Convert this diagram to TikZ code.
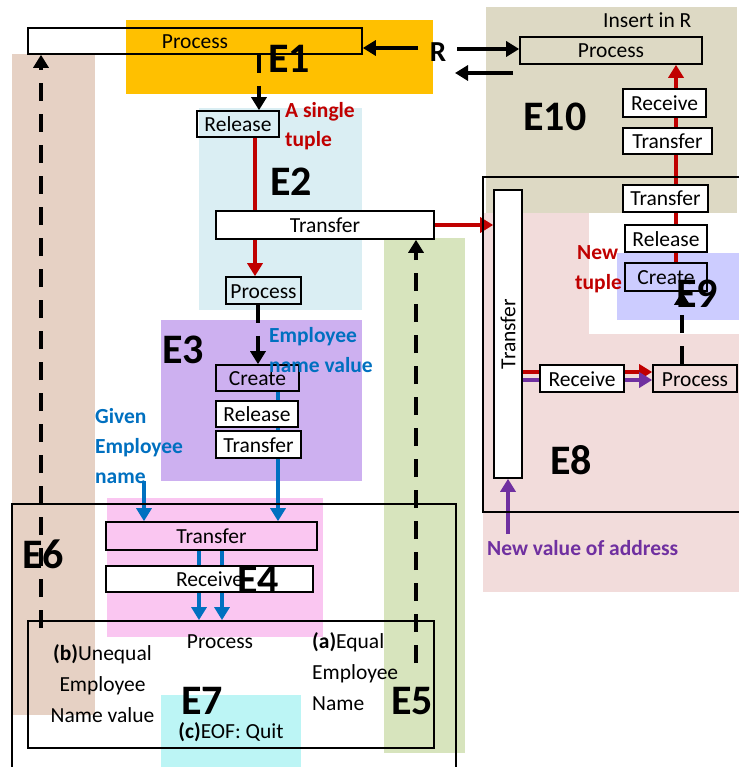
\documentclass[tikz,border=0pt]{standalone}
\usepackage{fontspec}
\usepackage{graphicx}
\setmainfont{Carlito}
\usetikzlibrary{arrows.meta}

\definecolor{eorange}{HTML}{FFC000}
\definecolor{eblue}{HTML}{DAEEF3}
\definecolor{epurple}{HTML}{CDB0F0}
\definecolor{epink}{HTML}{FAC6F1}
\definecolor{ecyan}{HTML}{BCF5F5}
\definecolor{egreen}{HTML}{D7E4BD}
\definecolor{etan}{HTML}{E6D1C4}
\definecolor{egray}{HTML}{DDD9C4}
\definecolor{erose}{HTML}{F2DCDB}
\definecolor{elav}{HTML}{CCCCFF}
\definecolor{redc}{HTML}{C00000}
\definecolor{bluec}{HTML}{0070C0}
\definecolor{purc}{HTML}{7030A0}

\newcommand\dtxt{\fontsize{21.5}{26}\selectfont}
\newcommand\dtxtb{\fontsize{21.5}{26}\selectfont\bfseries}
\newcommand\delab{\fontsize{42}{42}\selectfont\bfseries}

\pgfdeclarelayer{regions}
\pgfdeclarelayer{links}
\pgfsetlayers{regions,links,main}

\begin{document}
\begin{tikzpicture}[x=1pt,y=-1pt,
  box/.style={draw, line width=1.6pt, inner sep=0pt, text height=15pt, text depth=0pt, font=\dtxt},
  wbox/.style={box, fill=white},
  frame/.style={line width=1.8pt},
  arr/.style={line width=3.3pt, -{Triangle[length=13pt,width=15pt]}},
  darr/.style={arr, dash pattern=on 18pt off 13pt},
  lbl/.style={inner sep=0pt, font=\dtxt},
  blbl/.style={inner sep=0pt, font=\dtxtb},
  elbl/.style={inner sep=0pt, font=\delab}]

\useasboundingbox (0,0) rectangle (739,767);

% coloured regions
\begin{pgfonlayer}{regions}
  \fill[white] (0,0) rectangle (739,767);
  \fill[etan]    (12,54)   rectangle (95,715);
  \fill[eorange] (126,20)  rectangle (433,94);
  \fill[eblue]   (199,108) rectangle (362,310);
  \fill[epurple] (161,320) rectangle (362,481);
  \fill[egreen]  (384,238) rectangle (465,753);
  \fill[epink]   (107,498) rectangle (323,637);
  \fill[ecyan]   (161,695) rectangle (301,767);
  \fill[egray]   (486,7)   rectangle (737,213);
  \fill[erose]   (483,213) rectangle (739,592);
  \fill[white]   (589,213) rectangle (739,334);
  \fill[elav]    (617,253) rectangle (739,320);
\end{pgfonlayer}

% boxes
\node[box,  minimum width=334, minimum height=26] (p1)   at (195,41)     {Process};
\node[box,  minimum width=82,  minimum height=26] (rel1) at (238,124)    {Release};
\node[wbox, minimum width=218, minimum height=28] (tr2)  at (325,225)    {Transfer};
\node[box,  minimum width=75,  minimum height=27] (pr2)  at (263.5,290.5){Process};
\node[box,  minimum width=83,  minimum height=26] (cr3)  at (257.5,378)  {Create};
\node[wbox, minimum width=82,  minimum height=26] (rel3) at (257,414)    {Release};
\node[wbox, minimum width=85,  minimum height=27] (tr3)  at (258.5,444.5){Transfer};
\node[box,  minimum width=211, minimum height=28] (tr4)  at (211.5,536)  {Transfer};
\node[wbox, minimum width=207, minimum height=26] (rc4)  at (209.5,579)  {Receive};
\node[draw, frame, inner sep=0pt, minimum width=406, minimum height=127] (pr7) at (231,684.5) {};
\node[box,  minimum width=182, minimum height=27] (p10)  at (611,50.5)   {Process};
\node[wbox, minimum width=83,  minimum height=28] (rc10) at (664.5,103)  {Receive};
\node[wbox, minimum width=89,  minimum height=26] (tr10) at (667.5,141)  {Transfer};
\node[wbox, minimum width=85,  minimum height=27] (tr8)  at (665.5,198.5){Transfer};
\node[wbox, minimum width=82,  minimum height=27] (rel9) at (666,238.5)  {Release};
\node[box,  minimum width=82,  minimum height=28] (cr9)  at (666,277)    {Create};
\node[wbox, minimum width=28,  minimum height=288] (vtr) at (508,334)    {};
\node[lbl, rotate=90] (vtrt) at (vtr.center) {Transfer};
\node[wbox, minimum width=84,  minimum height=27] (rc8)  at (582,378.5)  {Receive};
\node[box,  minimum width=84,  minimum height=27] (pr8)  at (695,378.5)  {Process};

% open frames
\draw[frame] (12,767) -- (12,504) -- (456,504) -- (456,767);
\draw[frame] (739,177) -- (483,177) -- (483,512) -- (739,512);

% texts
\node[inner sep=0pt, font=\fontsize{29}{29}\selectfont\bfseries] (R) at (438,52) {R};
\node[lbl, anchor=base west] (ins) at (603,28) {Insert in R};
\node[blbl, text=redc, anchor=base west] (sg1) at (285,118) {A single};
\node[blbl, text=redc, anchor=base west] (sg2) at (285,147) {tuple};
\node[blbl, text=bluec, anchor=base west] (ev1) at (269,342) {Employee};
\node[blbl, text=bluec, anchor=base west] (ev2) at (269,372) {name value};
\node[blbl, text=bluec, anchor=base west] (gv1) at (95,423) {Given};
\node[blbl, text=bluec, anchor=base west] (gv2) at (95,453) {Employee};
\node[blbl, text=bluec, anchor=base west] (gv3) at (95,483) {name};
\node[lbl, anchor=base] (pr7t) at (220,648) {Process};
\node[lbl, anchor=base] (b1) at (102.5,660) {{\bfseries (b)}Unequal};
\node[lbl, anchor=base] (b2) at (102.5,691) {Employee};
\node[lbl, anchor=base] (b3) at (102.5,722) {Name value};
\node[lbl, anchor=base west] (a1) at (312,648) {{\bfseries (a)}Equal};
\node[lbl, anchor=base west] (a2) at (312,679) {Employee};
\node[lbl, anchor=base west] (a3) at (312,710) {Name};
\node[lbl, anchor=base] (c1) at (231,738) {{\bfseries (c)}EOF: Quit};
\node[blbl, text=redc, anchor=base west] (nt1) at (577,259) {New};
\node[blbl, text=redc, anchor=base west] (nt2) at (575,289) {tuple};
\node[blbl, text=purc, anchor=base west] (addr) at (487,555) {New value of address};

% connectors
\begin{pgfonlayer}{links}
  \coordinate (rs1) at (418,48);
  \coordinate (rs2) at (457,49);
  \coordinate (rb1) at (513,73);
  \coordinate (rb2) at (455,73);
  \draw[arr] (rs1) -- (rs1 -| p1.east);
  \draw[arr] (rs2) -- (rs2 -| p10.west);
  \draw[arr] (rb1) -- (rb2);

  \coordinate (xa) at (259,0);
  \draw[darr] (xa |- p1.south) -- (xa |- rel1.north);
  \coordinate (xb) at (255,0);
  \draw[arr, redc] (xb |- rel1.south) -- (xb |- pr2.north);
  \draw[arr, redc] (tr2.east) -- (tr2.east -| vtr.west);
  \coordinate (xc) at (258,0);
  \draw[darr] (xc |- pr2.south) -- (xc |- cr3.north);
  \coordinate (xd) at (278,0);
  \draw[arr, bluec] (xd |- cr3.south) -- (xd |- tr4.north);
  \coordinate (gn) at (144,481);
  \draw[arr, bluec] (gn) -- (gn |- tr4.north);
  \coordinate (xe) at (199,0);
  \coordinate (xf) at (222,0);
  \draw[arr, bluec] (xe |- tr4.south) -- (xe |- pr7.north);
  \draw[arr, bluec] (xf |- tr4.south) -- (xf |- pr7.north);

  \coordinate (d5) at (416,663);
  \draw[darr] (d5) -- (d5 |- tr2.south);
  \coordinate (d6) at (41,628);
  \draw[darr] (d6) -- (d6 |- p1.south);

  \coordinate (xg) at (676,0);
  \draw[arr, redc] (xg |- cr9.north) -- (xg |- p10.south);
  \coordinate (xh) at (682,0);
  \draw[darr] (xh |- pr8.north) -- (xh |- cr9.south);

  \coordinate (ry) at (0,372);
  \coordinate (py) at (0,380);
  \draw[arr, redc] (vtr.east |- ry) -- (pr8.west |- ry);
  \draw[arr, purc] (vtr.east |- py) -- (pr8.west |- py);
  \coordinate (na) at (508,534);
  \draw[arr, purc] (na) -- (na |- vtr.south);
\end{pgfonlayer}

% region labels
\node[elbl] (E1) at (289,59) {E1};
\node[elbl] (E2) at (291,182) {E2};
\node[elbl] (E3) at (183,350) {E3};
\node[elbl] (E4) at (258,580) {E4};
\node[elbl] (E5) at (412,701) {E5};
\node[elbl] (E6) at (43,554) {E6};
\node[elbl] (E7) at (202,701) {E7};
\node[elbl] (E8) at (571,460) {E8};
\node[elbl] (E9) at (697,294) {E9};
\node[elbl] (E10) at (555,117) {E10};
\end{tikzpicture}
\end{document}
